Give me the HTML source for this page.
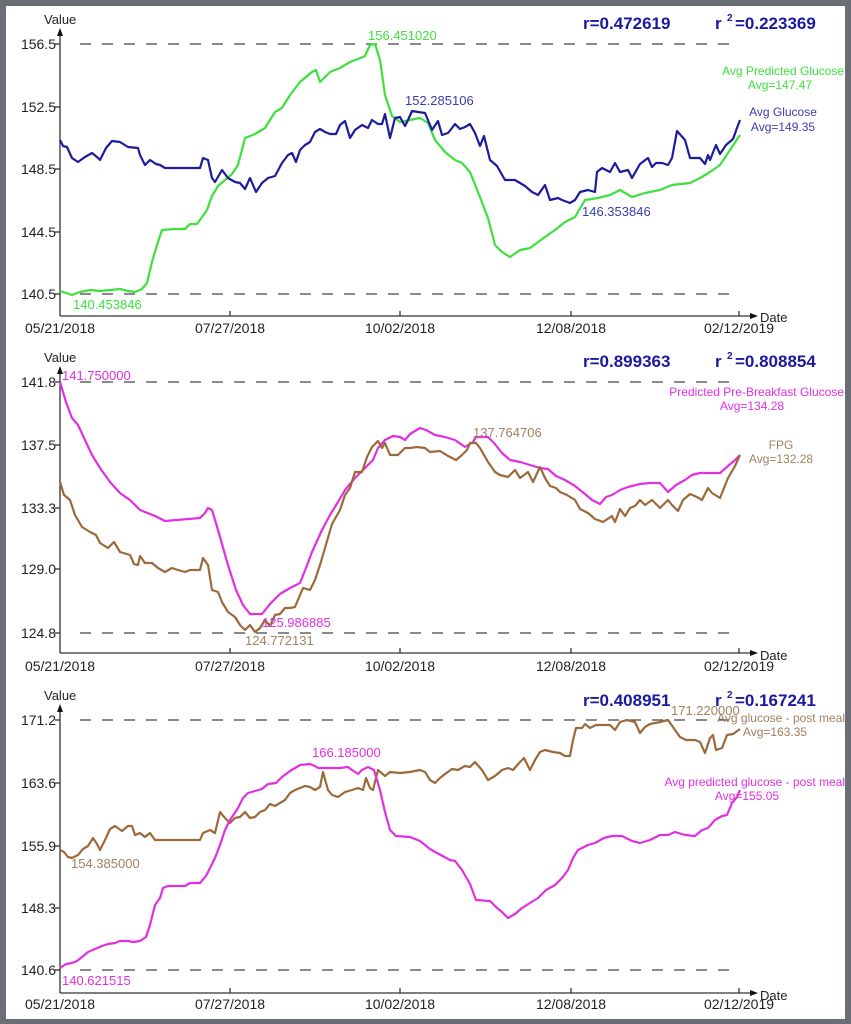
<!DOCTYPE html>
<html><head><meta charset="utf-8"><style>
html,body{margin:0;padding:0;background:#6b6e75;}
svg{display:block;}
text{font-family:"Liberation Sans",sans-serif;}
</style></head><body>
<svg width="851" height="1024" viewBox="0 0 851 1024" xmlns="http://www.w3.org/2000/svg">
<rect x="0" y="0" width="851" height="1024" fill="#6b6e75"/>
<rect x="6" y="6" width="839" height="1013" fill="#ffffff"/>
<g stroke="#333" stroke-width="1.3" fill="none">
<!-- chart1 axes -->
<line x1="60" y1="316" x2="60" y2="34"/><line x1="60" y1="316" x2="752" y2="316"/>
<line x1="230" y1="316" x2="230" y2="311"/><line x1="400" y1="316" x2="400" y2="311"/><line x1="571" y1="316" x2="571" y2="311"/><line x1="739" y1="316" x2="739" y2="311"/>
<line x1="55" y1="44" x2="60" y2="44"/><line x1="55" y1="107" x2="60" y2="107"/><line x1="55" y1="169" x2="60" y2="169"/><line x1="55" y1="232" x2="60" y2="232"/><line x1="55" y1="294" x2="60" y2="294"/>
<!-- chart2 -->
<line x1="60" y1="653" x2="60" y2="372"/><line x1="60" y1="653" x2="752" y2="653"/>
<line x1="230" y1="653" x2="230" y2="648"/><line x1="400" y1="653" x2="400" y2="648"/><line x1="571" y1="653" x2="571" y2="648"/><line x1="739" y1="653" x2="739" y2="648"/>
<line x1="55" y1="382" x2="60" y2="382"/><line x1="55" y1="445" x2="60" y2="445"/><line x1="55" y1="508" x2="60" y2="508"/><line x1="55" y1="569" x2="60" y2="569"/><line x1="55" y1="633" x2="60" y2="633"/>
<!-- chart3 -->
<line x1="60" y1="993" x2="60" y2="710"/><line x1="60" y1="993" x2="752" y2="993"/>
<line x1="230" y1="993" x2="230" y2="988"/><line x1="400" y1="993" x2="400" y2="988"/><line x1="571" y1="993" x2="571" y2="988"/><line x1="739" y1="993" x2="739" y2="988"/>
<line x1="55" y1="720" x2="60" y2="720"/><line x1="55" y1="783" x2="60" y2="783"/><line x1="55" y1="846" x2="60" y2="846"/><line x1="55" y1="908" x2="60" y2="908"/><line x1="55" y1="970" x2="60" y2="970"/>
</g>
<g fill="#111">
<polygon points="60,28 57,36 63,36"/><polygon points="758,316 750,313 750,319"/>
<polygon points="60,366 57,374 63,374"/><polygon points="758,653 750,650 750,656"/>
<polygon points="60,704 57,712 63,712"/><polygon points="758,993 750,990 750,996"/>
</g>
<g stroke="#444" stroke-width="1.3" stroke-dasharray="11,11" fill="none">
<line x1="80" y1="44" x2="740" y2="44"/><line x1="80" y1="294" x2="740" y2="294"/>
<line x1="80" y1="382" x2="740" y2="382"/><line x1="80" y1="633" x2="740" y2="633"/>
<line x1="80" y1="720" x2="740" y2="720"/><line x1="80" y1="970" x2="740" y2="970"/>
</g>
<g font-size="13" fill="#222">
<text x="44" y="24">Value</text><text x="44" y="362">Value</text><text x="44" y="700">Value</text>
<text x="760" y="322">Date</text><text x="760" y="660">Date</text><text x="760" y="1000">Date</text>
<g text-anchor="end" font-size="14">
<text x="56" y="49">156.5</text><text x="56" y="112">152.5</text><text x="56" y="174">148.5</text><text x="56" y="237">144.5</text><text x="56" y="299">140.5</text>
<text x="56" y="387">141.8</text><text x="56" y="450">137.5</text><text x="56" y="513">133.3</text><text x="56" y="574">129.0</text><text x="56" y="638">124.8</text>
<text x="56" y="725">171.2</text><text x="56" y="788">163.6</text><text x="56" y="851">155.9</text><text x="56" y="913">148.3</text><text x="56" y="975">140.6</text>
</g>
<g text-anchor="middle" font-size="14">
<text x="60" y="333">05/21/2018</text><text x="230" y="333">07/27/2018</text><text x="400" y="333">10/02/2018</text><text x="571" y="333">12/08/2018</text><text x="739" y="333">02/12/2019</text>
<text x="60" y="671">05/21/2018</text><text x="230" y="671">07/27/2018</text><text x="400" y="671">10/02/2018</text><text x="571" y="671">12/08/2018</text><text x="739" y="671">02/12/2019</text>
<text x="60" y="1009">05/21/2018</text><text x="230" y="1009">07/27/2018</text><text x="400" y="1009">10/02/2018</text><text x="571" y="1009">12/08/2018</text><text x="739" y="1009">02/12/2019</text>
</g>
</g>
<g font-size="17" font-weight="bold" fill="#1a1aa0">
<text x="583" y="29">r=0.472619</text><text x="715" y="29">r</text><text x="727" y="21" font-size="10">2</text><text x="735" y="29">=0.223369</text>
<text x="583" y="367">r=0.899363</text><text x="715" y="367">r</text><text x="727" y="359" font-size="10">2</text><text x="735" y="367">=0.808854</text>
<text x="583" y="706">r=0.408951</text><text x="715" y="706">r</text><text x="727" y="698" font-size="10">2</text><text x="735" y="706">=0.167241</text>
</g>
<g fill="none" stroke-width="2.2" stroke-linejoin="round">
<polyline stroke="#3ee03e" points="60,291 66,293 72,295 80,292 90,290 100,291 110,290 120,289 128,291 135,292 142,289 147,283 152,262 157,245 162,230 175,229 185,229 190,224 197,224 200,220 207,210 212,196 218,186 225,180 232,174 238,165 245,138 255,134 265,128 275,112 282,108 290,95 300,82 312,72 316,70 320,82 330,72 340,68 350,62 358,59 365,56 370,45 375,44 380,60 385,95 392,116 400,122 410,120 420,118 428,123 435,140 445,152 455,160 462,163 470,172 478,192 488,218 495,245 502,252 510,257 520,250 530,248 545,237 555,230 565,222 575,217 585,200 598,198 610,195 620,190 632,197 645,193 660,190 672,185 690,183 700,178 710,172 720,165 730,150 740,135"/>
<polyline stroke="#1c1c9c" points="60,140 63,146 67,147 72,158 78,162 85,157 92,153 97,157 100,160 106,148 112,141 120,142 128,147 138,148 140,155 145,165 150,160 156,164 160,165 165,168 175,168 200,168 203,158 208,160 212,178 215,182 222,170 228,178 235,182 240,183 245,189 250,178 256,192 262,183 268,178 275,176 282,163 288,155 292,153 296,162 300,150 305,145 310,142 315,132 320,129 325,132 330,134 336,134 340,125 345,121 350,138 355,130 362,125 368,128 372,120 378,124 382,124 385,114 390,138 395,118 400,117 405,126 408,120 412,111 418,112 425,113 430,125 432,130 438,121 442,135 448,133 452,128 455,124 460,129 465,127 470,124 475,133 480,146 484,136 490,160 497,166 505,180 515,180 525,186 532,192 538,195 545,185 550,200 558,198 562,200 570,203 575,200 580,192 588,190 595,192 597,172 602,168 610,172 615,163 620,172 628,170 632,178 640,164 648,158 652,167 656,163 662,163 668,165 672,158 677,131 685,140 690,158 700,158 705,164 708,155 710,160 716,145 720,154 726,145 733,139 737,128 740,120"/>
<polyline stroke="#e030e0" points="60,382 66,402 72,418 78,425 85,440 92,455 100,468 110,482 120,493 130,500 140,510 155,516 165,521 200,518 205,513 208,508 212,510 218,530 228,565 236,590 243,605 250,614 262,614 270,604 280,594 290,588 300,583 306,568 312,552 322,530 330,515 338,502 345,490 355,478 365,468 373,460 378,448 385,440 393,436 400,437 405,440 410,434 420,428 426,430 435,435 445,437 455,440 465,447 473,442 476,437 488,437 494,443 502,453 510,460 520,462 530,465 540,468 548,469 556,476 565,480 575,486 585,494 592,500 600,504 606,497 612,495 620,490 628,487 640,484 650,483 660,483 668,492 676,485 685,480 692,475 700,473 710,473 720,473 728,466 735,460 740,455"/>
<polyline stroke="#9c6a3a" points="60,482 64,495 70,500 75,515 82,527 90,532 96,535 100,543 108,548 114,542 120,552 130,555 134,564 138,565 140,556 145,563 152,563 158,568 165,572 172,568 178,570 185,572 190,570 200,570 203,558 208,565 212,590 218,592 222,602 228,612 235,617 240,625 245,630 250,625 255,632 260,628 265,620 270,626 275,615 280,614 285,608 290,608 295,607 300,595 303,588 310,590 315,580 320,565 325,548 332,524 340,510 345,495 350,488 355,472 362,472 367,457 372,447 378,441 382,448 385,443 390,455 398,455 405,448 410,448 417,447 425,448 430,452 440,451 448,456 456,460 462,455 467,450 470,443 476,443 480,448 488,462 495,472 500,475 508,477 515,470 520,478 528,472 533,482 540,467 545,478 550,486 556,488 560,492 567,495 575,500 580,509 588,513 595,519 603,522 612,516 615,522 620,509 625,516 630,508 635,506 640,500 645,505 652,500 660,508 668,500 672,505 678,511 683,500 690,494 697,497 702,500 708,488 712,493 720,498 728,478 735,466 740,455"/>
<polyline stroke="#9c6a3a" points="60,850 64,852 68,857 72,858 78,855 83,849 88,846 93,838 97,844 100,850 106,838 110,829 115,826 122,831 128,826 132,826 135,835 140,833 145,837 150,833 155,840 160,840 200,840 203,833 210,830 215,833 220,812 225,818 230,823 235,818 240,817 245,812 250,818 255,817 260,812 265,810 270,804 275,806 280,803 285,800 290,793 295,790 300,788 305,786 310,787 315,790 320,787 323,772 328,790 332,795 338,797 345,792 352,790 358,788 363,790 366,778 370,788 373,790 378,770 385,776 390,772 400,773 410,772 420,770 425,772 430,780 435,783 440,778 445,774 452,769 458,770 465,766 470,767 475,762 482,770 488,780 495,776 502,770 508,768 513,770 520,762 524,758 530,770 535,760 540,752 545,750 553,752 560,753 565,756 570,756 573,740 576,728 582,728 585,724 590,728 596,725 603,725 610,725 615,730 620,722 627,720 635,722 640,733 645,727 650,724 660,722 668,720 675,730 680,737 686,740 695,740 700,742 705,753 710,738 713,735 716,750 722,748 727,735 733,734 740,729"/>
<polyline stroke="#e030e0" points="60,968 66,964 72,963 77,961 82,957 88,952 95,949 102,946 108,944 115,943 120,941 128,941 133,942 140,941 146,937 150,925 155,905 160,898 163,888 168,886 185,886 190,883 200,883 206,876 210,868 215,858 220,845 225,830 230,820 238,808 243,798 248,793 255,791 262,789 268,784 276,783 282,777 290,771 300,765 310,764 315,766 318,768 330,768 340,768 348,767 352,770 358,774 362,770 368,767 374,770 380,790 385,812 390,830 396,836 410,837 420,841 430,849 437,853 450,860 455,861 462,870 470,884 476,900 490,901 496,907 502,912 508,918 515,914 522,908 530,903 538,898 546,890 555,885 562,878 568,870 573,858 578,850 588,845 595,843 604,838 612,836 622,836 632,841 640,843 650,840 660,835 668,835 675,832 685,835 695,836 702,830 708,828 715,820 722,816 727,815 732,803 737,797 740,790"/>
</g>
<g font-size="13">
<text x="368" y="40" fill="#3ee03e">156.451020</text>
<text x="73" y="309" fill="#3ee03e">140.453846</text>
<text x="405" y="105" fill="#3c3cb0">152.285106</text>
<text x="582" y="216" fill="#3c3cb0">146.353846</text>
<text x="844" y="75" text-anchor="end" fill="#3ee03e" font-size="12">Avg Predicted Glucose</text>
<text x="780" y="89" text-anchor="middle" fill="#3ee03e" font-size="12">Avg=147.47</text>
<text x="783" y="116" text-anchor="middle" fill="#3c3cb0" font-size="12">Avg Glucose</text>
<text x="783" y="131" text-anchor="middle" fill="#3c3cb0" font-size="12">Avg=149.35</text>
<text x="62" y="380" fill="#e030e0">141.750000</text>
<text x="262" y="627" fill="#e030e0">125.986885</text>
<text x="245" y="645" fill="#a0825e">124.772131</text>
<text x="473" y="437" fill="#a0825e">137.764706</text>
<text x="844" y="396" text-anchor="end" fill="#e030e0" font-size="12">Predicted Pre-Breakfast Glucose</text>
<text x="752" y="410" text-anchor="middle" fill="#e030e0" font-size="12">Avg=134.28</text>
<text x="781" y="449" text-anchor="middle" fill="#a0825e" font-size="12">FPG</text>
<text x="781" y="463" text-anchor="middle" fill="#a0825e" font-size="12">Avg=132.28</text>
<text x="71" y="868" fill="#a0825e">154.385000</text>
<text x="62" y="985" fill="#e030e0">140.621515</text>
<text x="312" y="757" fill="#e030e0">166.185000</text>
<text x="671" y="715" fill="#a0825e">171.220000</text>
<text x="845" y="722" text-anchor="end" fill="#a0825e" font-size="12">Avg glucose - post meal</text>
<text x="775" y="736" text-anchor="middle" fill="#a0825e" font-size="12">Avg=163.35</text>
<text x="845" y="786" text-anchor="end" fill="#e030e0" font-size="12">Avg predicted glucose - post meal</text>
<text x="747" y="800" text-anchor="middle" fill="#e030e0" font-size="12">Avg=155.05</text>
</g>
</svg>
</body></html>
